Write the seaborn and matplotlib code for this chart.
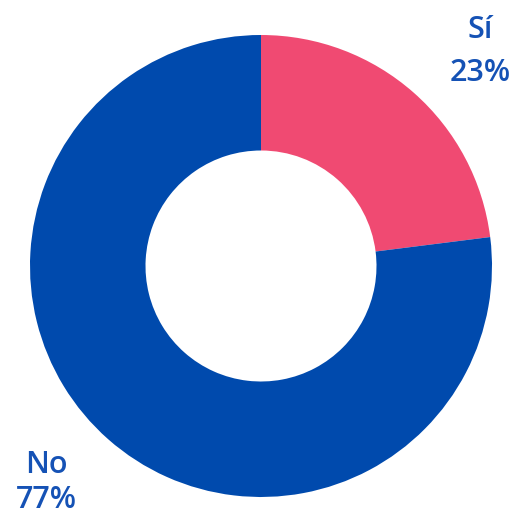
import matplotlib.pyplot as plt
import seaborn as sns

# Data
labels = ["Sí", "No"]
values = [23, 77]
colors = ["#F04A72", "#004AAD"]
text_color = "#1552B5"

sns.set_theme(style="white")
plt.rcParams['font.family'] = ['Open Sans', 'DejaVu Sans']

fig = plt.figure(figsize=(5.17, 5.17), dpi=100)
ax = fig.add_axes([0, 0, 1, 1])

ax.pie(values, colors=colors, startangle=90, counterclock=False,
       radius=1.0, wedgeprops=dict(width=0.5, linewidth=0))

# label positions (name above percent)
label_pos = {"Sí": (0.948, 1.02, 0.835), "No": (-0.93, -0.86, -1.015)}
for lab, val in zip(labels, values):
    x, y1, y2 = label_pos[lab]
    ax.text(x, y1, lab, ha="center", va="center", fontsize=22,
            fontweight="semibold", color=text_color)
    ax.text(x, y2, f"{val}%", ha="center", va="center", fontsize=22,
            fontweight="semibold", color=text_color)

ax.set_xlim(-261 / 231, 256 / 231)
ax.set_ylim(-251 / 231, 266 / 231)
ax.set_aspect("equal")
ax.axis("off")

fig.savefig("out.png", dpi=100)
